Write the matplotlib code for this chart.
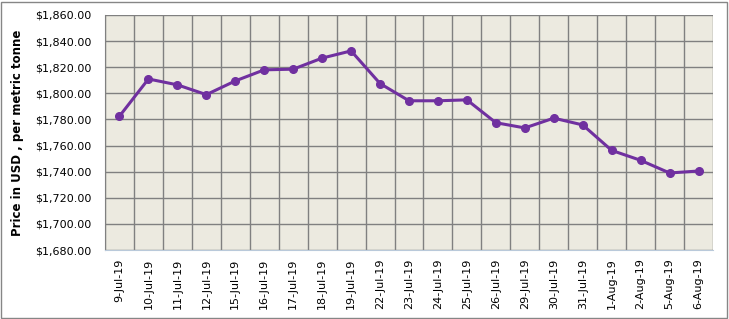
import numpy as np
import matplotlib.pyplot as plt
from matplotlib.patches import Rectangle

dates = ["9-Jul-19", "10-Jul-19", "11-Jul-19", "12-Jul-19", "15-Jul-19", "16-Jul-19",
         "17-Jul-19", "18-Jul-19", "19-Jul-19", "22-Jul-19", "23-Jul-19", "24-Jul-19",
         "25-Jul-19", "26-Jul-19", "29-Jul-19", "30-Jul-19", "31-Jul-19", "1-Aug-19",
         "2-Aug-19", "5-Aug-19", "6-Aug-19"]
prices = [1782.5, 1811, 1806.5, 1799, 1809.5, 1818, 1818.5, 1827, 1832.5, 1807.5,
          1794.3, 1794.3, 1795, 1777.5, 1773.5, 1781, 1775.8, 1756.3, 1748.7, 1739, 1740.5]
y_ticks = np.arange(1680, 1861, 20)

fig = plt.figure(figsize=(7.29, 3.19), dpi=100)
ax = fig.add_axes([105/729, 1 - 250/319, 608/729, 235/319])

x = np.arange(len(dates))
ax.set_facecolor("#ECEAE0")
ax.plot(x, prices, color="#7030A0", lw=2.2, marker="o", ms=5.5, zorder=3)

ax.set_xlim(-0.5, len(dates) - 0.5)
ax.set_ylim(1680, 1860)
ax.set_yticks(y_ticks)
ax.set_yticklabels(["${:,.2f}".format(v) for v in y_ticks], fontsize=8)
ax.set_xticks(x)
ax.set_xticklabels(dates, rotation=90, fontsize=8)
ax.set_xticks(np.arange(-0.5, len(dates)), minor=True)

ax.grid(True, axis="y", color="#808080", lw=1)
ax.grid(True, axis="x", which="minor", color="#808080", lw=1)
ax.tick_params(axis="x", which="major", length=0, pad=6)
ax.tick_params(axis="x", which="minor", length=0)
ax.tick_params(axis="y", length=0, pad=10)

for s in ["top", "right"]:
    ax.spines[s].set_visible(False)
ax.spines["left"].set_color("#808080")
ax.spines["bottom"].set_color("#B9C9DA")

ax.set_ylabel("Price in USD , per metric tonne", fontsize=8.5, fontweight="bold", labelpad=8)

fig.patches.append(Rectangle((0.002, 0.004), 0.995, 0.99, transform=fig.transFigure,
                             fill=False, edgecolor="#868686", lw=1))

fig.savefig("out.png", dpi=100)
